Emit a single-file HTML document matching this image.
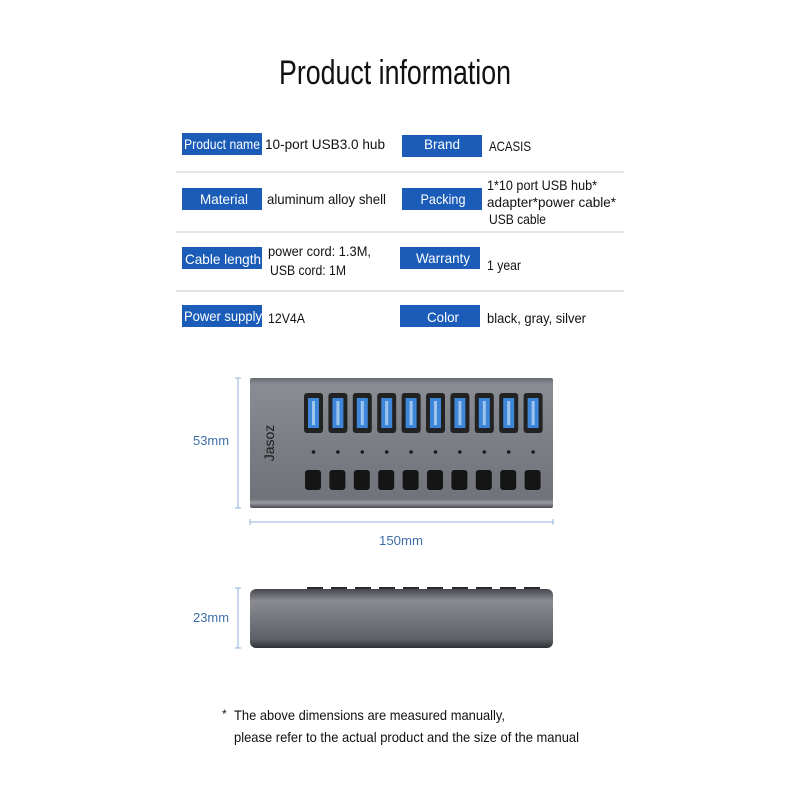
<!DOCTYPE html>
<html><head><meta charset="utf-8"><style>
html,body{margin:0;padding:0;background:#fff;}
svg{display:block}
text{font-family:"Liberation Sans",sans-serif;}
</style></head><body>
<svg width="800" height="800" viewBox="0 0 800 800" xmlns="http://www.w3.org/2000/svg">
<defs>
<linearGradient id="top" x1="0" y1="0" x2="0" y2="1">
<stop offset="0" stop-color="#6a6d73"/><stop offset="0.05" stop-color="#8a8d93"/><stop offset="0.5" stop-color="#7b7e85"/><stop offset="0.93" stop-color="#70737a"/><stop offset="0.96" stop-color="#9a9ca1"/><stop offset="1" stop-color="#4a4c51"/>
</linearGradient>
<linearGradient id="side" x1="0" y1="0" x2="0" y2="1">
<stop offset="0" stop-color="#45474c"/><stop offset="0.2" stop-color="#8a8c92"/><stop offset="0.5" stop-color="#74777d"/><stop offset="0.85" stop-color="#5d6066"/><stop offset="1" stop-color="#2e3034"/>
</linearGradient>
</defs>
<text x="395" y="84" font-size="34" text-anchor="middle" textLength="232" lengthAdjust="spacingAndGlyphs" fill="#111">Product information</text>

<g fill="#1a5cb8">
<rect x="182" y="133" width="80" height="22"/><rect x="402" y="135" width="80" height="22"/>
<rect x="182" y="188" width="80" height="22"/><rect x="402" y="188" width="80" height="22"/>
<rect x="182" y="247" width="80" height="22"/><rect x="400" y="247" width="80" height="22"/>
<rect x="182" y="305" width="80" height="22"/><rect x="400" y="305" width="80" height="22"/>
</g>
<g stroke="#c8c8c8" stroke-width="1">
<line x1="176" y1="172" x2="624" y2="172"/><line x1="176" y1="232" x2="624" y2="232"/><line x1="176" y1="291" x2="624" y2="291"/>
</g>
<g fill="#fff" font-size="14" text-anchor="middle">
<text x="222" y="149" textLength="76" lengthAdjust="spacingAndGlyphs">Product name</text>
<text x="442" y="149" textLength="36" lengthAdjust="spacingAndGlyphs">Brand</text>
<text x="224" y="204" textLength="48" lengthAdjust="spacingAndGlyphs">Material</text>
<text x="443" y="204" textLength="45" lengthAdjust="spacingAndGlyphs">Packing</text>
<text x="223" y="264" textLength="76" lengthAdjust="spacingAndGlyphs">Cable length</text>
<text x="443" y="263" textLength="54" lengthAdjust="spacingAndGlyphs">Warranty</text>
<text x="223" y="321" textLength="78" lengthAdjust="spacingAndGlyphs">Power supply</text>
<text x="443" y="322" textLength="32" lengthAdjust="spacingAndGlyphs">Color</text>
</g>
<g fill="#111" font-size="14">
<text x="265" y="149" textLength="120" lengthAdjust="spacingAndGlyphs">10-port USB3.0 hub</text>
<text x="489" y="151" textLength="42" lengthAdjust="spacingAndGlyphs">ACASIS</text>
<text x="267" y="204" textLength="119" lengthAdjust="spacingAndGlyphs">aluminum alloy shell</text>
<text x="487" y="190" textLength="110" lengthAdjust="spacingAndGlyphs">1*10 port USB hub*</text>
<text x="487" y="207" textLength="129" lengthAdjust="spacingAndGlyphs">adapter*power cable*</text>
<text x="489" y="224" textLength="57" lengthAdjust="spacingAndGlyphs">USB cable</text>
<text x="268" y="256" textLength="103" lengthAdjust="spacingAndGlyphs">power cord: 1.3M,</text>
<text x="270" y="275" textLength="76" lengthAdjust="spacingAndGlyphs">USB cord: 1M</text>
<text x="487" y="270" textLength="34" lengthAdjust="spacingAndGlyphs">1 year</text>
<text x="268" y="323" textLength="37" lengthAdjust="spacingAndGlyphs">12V4A</text>
<text x="487" y="323" textLength="99" lengthAdjust="spacingAndGlyphs">black, gray, silver</text>
</g>

<!-- top view hub -->
<rect x="250" y="378" width="303" height="130" rx="2" fill="url(#top)"/>
<text transform="translate(274,443) rotate(-90)" font-size="14" fill="#1a1a1a" text-anchor="middle">Jasoz</text>
<g id="ports">
<g>
<rect x="304" y="393" width="19" height="40" rx="3" fill="#222"/>
<rect x="308" y="398" width="11" height="30" fill="#3d86d8"/>
<rect x="312" y="401" width="3" height="24" fill="#9cc4ee"/>
<circle cx="313.5" cy="452" r="1.8" fill="#1a1a1a"/>
<rect x="305" y="470" width="16" height="20" rx="3" fill="#151515"/>
</g>
</g>
<use href="#ports" x="24.4"/><use href="#ports" x="48.8"/><use href="#ports" x="73.2"/><use href="#ports" x="97.6"/><use href="#ports" x="122"/><use href="#ports" x="146.4"/><use href="#ports" x="170.8"/><use href="#ports" x="195.2"/><use href="#ports" x="219.6"/>

<!-- dimension lines -->
<g stroke="#8fb3d8" stroke-width="1">
<line x1="238" y1="378" x2="238" y2="508"/><line x1="235" y1="378" x2="241" y2="378"/><line x1="235" y1="508" x2="241" y2="508"/>
<line x1="250" y1="522" x2="553" y2="522"/><line x1="250" y1="519" x2="250" y2="525"/><line x1="553" y1="519" x2="553" y2="525"/>
<line x1="238" y1="588" x2="238" y2="648"/><line x1="235" y1="588" x2="241" y2="588"/><line x1="235" y1="648" x2="241" y2="648"/>
</g>
<g fill="#3f6fa8" font-size="13" text-anchor="middle">
<text x="211" y="445" textLength="36" lengthAdjust="spacingAndGlyphs">53mm</text>
<text x="401" y="545" textLength="44" lengthAdjust="spacingAndGlyphs">150mm</text>
<text x="211" y="622" textLength="36" lengthAdjust="spacingAndGlyphs">23mm</text>
</g>

<!-- side view -->
<g fill="#2a2b2e">
<rect x="307" y="587" width="16" height="3"/><rect x="331" y="587" width="16" height="3"/><rect x="355" y="587" width="16" height="3"/><rect x="379" y="587" width="16" height="3"/><rect x="403" y="587" width="16" height="3"/><rect x="427" y="587" width="16" height="3"/><rect x="452" y="587" width="16" height="3"/><rect x="476" y="587" width="16" height="3"/><rect x="500" y="587" width="16" height="3"/><rect x="524" y="587" width="16" height="3"/>
</g>
<rect x="250" y="589" width="303" height="59" rx="6" fill="url(#side)"/>

<g fill="#111" font-size="14">
<text x="222" y="718" font-size="12">*</text>
<text x="234" y="720" textLength="271" lengthAdjust="spacingAndGlyphs">The above dimensions are measured manually,</text>
<text x="234" y="742" textLength="345" lengthAdjust="spacingAndGlyphs">please refer to the actual product and the size of the manual</text>
</g>
</svg>
</body></html>
